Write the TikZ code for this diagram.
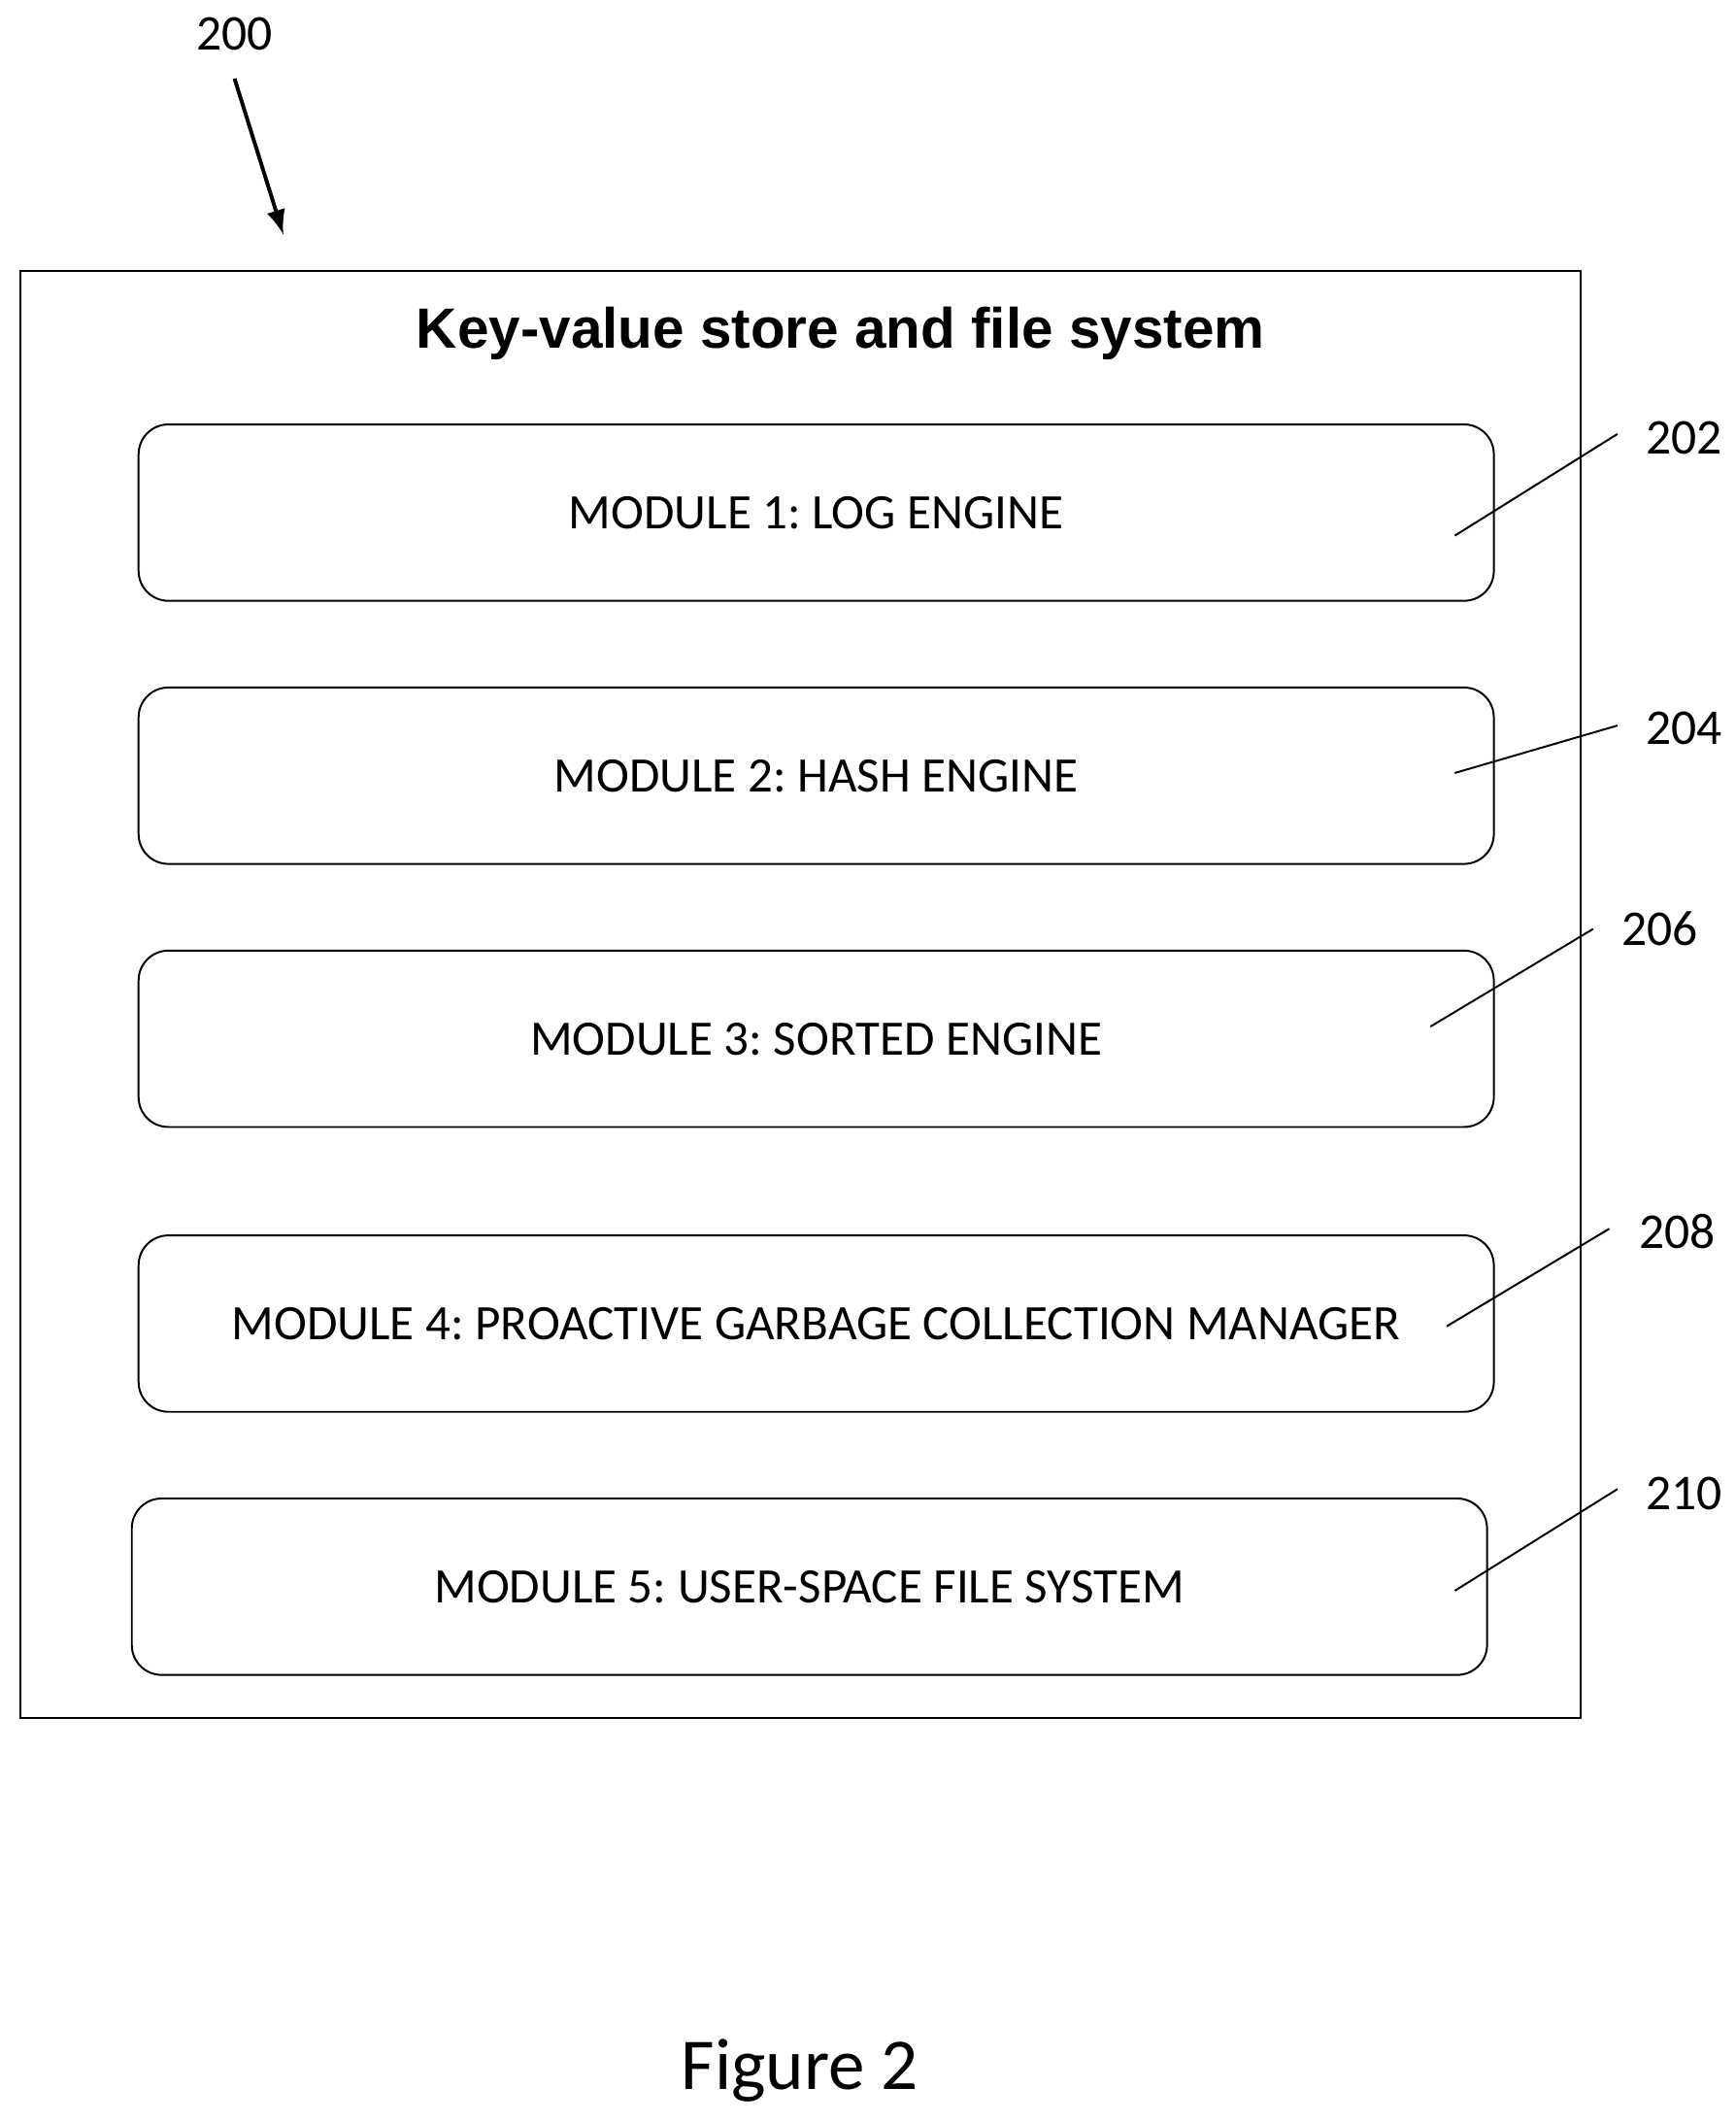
\documentclass[tikz,border=0pt]{standalone}
\usepackage{fontspec}
\setmainfont{Carlito}
\newfontfamily\titlefont{Liberation Sans}
\frenchspacing
\usetikzlibrary{positioning}
\tikzset{
  module/.style = {draw, rounded corners=0.22cm, minimum width=9.99cm, minimum height=1.3cm, font=\fontsize{10.4}{12}\selectfont},
  refnum/.style = {font=\fontsize{10.5}{12}\selectfont},
  leader/.style = {draw, thin}
}
\begin{document}
\begin{tikzpicture}[x=0.01cm, y=-0.01cm]
\useasboundingbox (0, 0) rectangle (1280, 1564);
\draw[thin] (15, 200) rectangle (1166, 1267);
\node[font=\titlefont\bfseries\fontsize{11.9}{14}\selectfont] (title) at (620, 246) {Key-value store and file system};
\node[module] (m1) at (602, 378) {MODULE 1: LOG ENGINE};
\node[module] (m2) at (602, 572) {MODULE 2: HASH ENGINE};
\node[module] (m3) at (602, 766) {MODULE 3: SORTED ENGINE};
\node[module] (m4) at (602, 976) {MODULE 4: PROACTIVE GARBAGE COLLECTION MANAGER};
\node[module] (m5) at (597, 1170) {MODULE 5: USER-SPACE FILE SYSTEM};
% reference numerals
\node[refnum] (n200) at (173, 25) {200};
\node[refnum] (n202) at (1242, 323) {202};
\node[refnum] (n204) at (1242, 537) {204};
\node[refnum] (n206) at (1224, 685) {206};
\node[refnum] (n208) at (1237, 908) {208};
\node[refnum] (n210) at (1242, 1101) {210};
\coordinate (c200) at (209, 173);
\coordinate (c202) at (1073, 395);
\coordinate (c204) at (1073, 570);
\coordinate (c206) at (1055, 757);
\coordinate (c208) at (1067, 978);
\coordinate (c210) at (1073, 1173);
\draw[thick, -latex] (173, 58) -- (c200);
\draw[leader] (1193, 320) -- (c202);
\draw[leader] (1193, 535) -- (c204);
\draw[leader] (1175, 685) -- (c206);
\draw[leader] (1187, 906) -- (c208);
\draw[leader] (1193, 1098) -- (c210);
\node[font=\fontsize{15.3}{18}\selectfont] (fig) at (590, 1527) {Figure 2};
\end{tikzpicture}
\end{document}
